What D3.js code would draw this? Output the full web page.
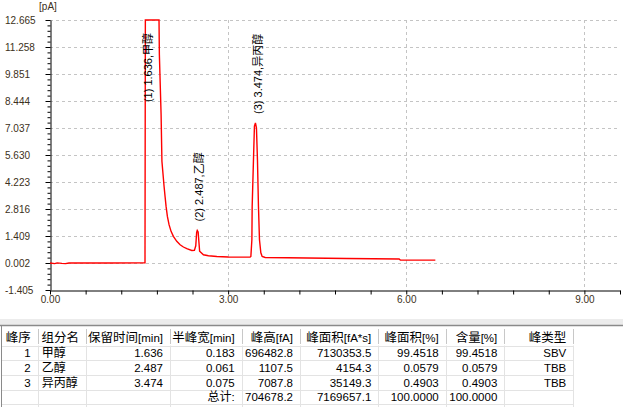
<!DOCTYPE html>
<html><head><meta charset="utf-8">
<script src="https://cdn.jsdelivr.net/npm/d3@7"></script>
<style>body{margin:0;background:#fff}svg{display:block}</style>
</head><body><svg id="c" width="623" height="407"></svg>
<script>
// ---- data ----
const yTickLabels = ["-1.405","0.002","1.409","2.816","4.223","5.630","7.037","8.444","9.851","11.258","12.665"];
const xTickLabels = ["0.00","3.00","6.00","9.00"];
const xTickValues = [0, 3, 6, 9];
const xMinorStep = 0.6;
const unitLabel = "[pA]";

const traceTime = [0,0.08,0.12,0.2,0.26,0.32,1.0,1.600,1.606,1.636,1.836,1.842,1.871,1.885,1.921,1.938,1.955,1.977,2.005,2.039,2.078,2.135,2.191,2.247,2.304,2.388,2.432,2.455,2.470,2.480,2.495,2.508,2.520,2.584,2.668,2.81,3.0,3.37,3.383,3.400,3.405,3.427,3.443,3.460,3.477,3.494,3.511,3.528,3.551,3.573,3.624,4.0,5.0,5.88,5.90,6.49];
const traceSignal = [0.002,-0.03,0.01,-0.02,-0.03,0.002,0.002,0.01,40,696.48,40,10.87,7.74,5.30,4.0,3.47,2.95,2.43,2.0,1.65,1.39,1.13,0.955,0.835,0.746,0.657,0.66,0.9,1.6,1.70,1.62,1.1,0.62,0.433,0.381,0.344,0.313,0.31,0.344,1.216,2.95,5.39,7.13,7.30,7.04,5.39,2.95,1.216,0.537,0.344,0.292,0.276,0.24,0.21,0.16,0.15];

const peakNo = ["1","2","3"];
const compName = ["甲醇","乙醇","异丙醇"];
const retTime = ["1.636","2.487","3.474"];
const halfWidth = ["0.183","0.061","0.075"];
const peakHeight = ["696482.8","1107.5","7087.8"];
const peakArea = ["7130353.5","4154.3","35149.3"];
const areaPct = ["99.4518","0.0579","0.4903"];
const content = ["99.4518","0.0579","0.4903"];
const peakType = ["SBV","TBB","TBB"];
const headers = ["峰序","组分名","保留时间[min]","半峰宽[min]","峰高[fA]","峰面积[fA*s]","峰面积[%]","含量[%]","峰类型"];
const totalRow = ["","","","总计:","704678.2","7169657.1","100.0000","100.0000",""];

// ---- chart ----
const svg = d3.select("#c");
const L = 50, R = 620, T = 20, B = 290;
const yVals = yTickLabels.map(Number);
const x = d3.scaleLinear([0, 9.6], [L, R]);
const y = d3.scaleLinear([yVals[0], yVals[yVals.length-1]], [B, T]).clamp(true);
const axisColor = "#000";
const labelColor = "#3c3020";

// grid
const grid = svg.append("g").attr("class", "grid");
yVals.slice(1).forEach(v => {
  const yy = Math.round(y(v)) + 0.5;
  grid.append("line").attr("x1", L).attr("x2", R).attr("y1", yy).attr("y2", yy);
});
xTickValues.slice(1).forEach(v => {
  const xx = Math.round(x(v)) + 0.5;
  grid.append("line").attr("x1", xx).attr("x2", xx).attr("y1", T).attr("y2", B);
});
grid.selectAll("line").attr("stroke", "#c4c4c4").attr("stroke-dasharray", "3,3").attr("stroke-width", 1);

// y axis
const minorY = [];
for (let i = 0; i < yVals.length - 1; i++) for (let k = 1; k < 5; k++) minorY.push(yVals[i] + (yVals[i+1]-yVals[i]) * k / 5);
const gy = svg.append("g").attr("transform", `translate(${L+0.5},0)`);
gy.call(d3.axisLeft(y).tickValues(minorY).tickSize(3).tickSizeOuter(0).tickFormat(""));
const gy2 = svg.append("g").attr("transform", `translate(${L+0.5},0)`);
gy2.call(d3.axisLeft(y).tickValues(yVals).tickSize(5).tickSizeOuter(0).tickFormat((d,i) => yTickLabels[i]));
gy2.select(".domain").remove();
gy2.selectAll("text").attr("x", 5 - L - 0.5).attr("text-anchor", "start").attr("dy", "0.35em")
  .attr("font-family", "Liberation Sans, Arial, sans-serif").attr("font-size", 10).attr("fill", labelColor);
[gy, gy2].forEach(g => g.selectAll("line, path.domain").attr("stroke", axisColor));

// x axis
const xAll = d3.range(0, 9.6 + 1e-6, xMinorStep);
const gx = svg.append("g").attr("transform", `translate(0,${B+0.5})`);
gx.call(d3.axisBottom(x).tickValues(xAll).tickSize(4).tickSizeOuter(0).tickFormat(d => {
  const i = xTickValues.findIndex(v => Math.abs(v - d) < 1e-6);
  return i >= 0 ? xTickLabels[i] : "";
}));
gx.selectAll("text").attr("font-family", "Liberation Sans, Arial, sans-serif").attr("font-size", 10).attr("fill", labelColor).attr("dy", "0.55em");
gx.selectAll("line, path").attr("stroke", axisColor);

svg.append("text").attr("x", 48).attr("y", 10).attr("text-anchor", "middle")
  .attr("font-family", "Liberation Sans, Arial, sans-serif").attr("font-size", 10).attr("fill", labelColor).text(unitLabel);

// trace
const idx = d3.range(traceTime.length);
svg.append("path").datum(idx)
  .attr("d", d3.line().x(i => x(traceTime[i])).y(i => y(traceSignal[i])))
  .attr("fill", "none").attr("stroke", "#ff0000").attr("stroke-width", 1.4).attr("stroke-linejoin", "miter");

// peak labels
retTime.forEach((rt, p) => {
  const t = +rt;
  let apex = -Infinity;
  idx.forEach(i => { if (Math.abs(traceTime[i] - t) < 0.05) apex = Math.max(apex, traceSignal[i]); });
  const ya = y(apex);
  const txt = svg.append("text").attr("transform", "rotate(-90)")
    .attr("font-family", "Liberation Sans, Arial, 'Noto Sans CJK SC', sans-serif").attr("font-size", 11).attr("fill", "#000")
    .attr("dy", "0.35em").text(`(${peakNo[p]}) ${rt},${compName[p]}`);
  const len = txt.node().getComputedTextLength();
  let bottom = ya - 9;
  if (bottom - len < 33) bottom = 33 + len;
  txt.attr("x", -bottom).attr("y", x(t) + 1.5);
});

// ---- table ----
const colEdges = [2, 37.7, 86, 170, 241.7, 300, 378.3, 445.7, 504.3, 573.3];
const tb = svg.append("g");
tb.append("rect").attr("x", 0).attr("y", 319).attr("width", 623).attr("height", 6).attr("fill", "#ececec");
tb.append("line").attr("x1", 0).attr("x2", 623).attr("y1", 325.5).attr("y2", 325.5).attr("stroke", "#8a8a8a").attr("stroke-width", 1.5);
tb.append("line").attr("x1", 1.5).attr("x2", 1.5).attr("y1", 325).attr("y2", 407).attr("stroke", "#8a8a8a");
const headTop = 326.5, headBot = 345.5, rowH = 14.7;
const rows = peakNo.map((n, i) => [n, compName[i], retTime[i], halfWidth[i], peakHeight[i], peakArea[i], areaPct[i], content[i], peakType[i]]);
rows.push(totalRow);
for (let r = 0; r <= rows.length; r++) {
  const yy = Math.round(headBot + r * rowH) + 0.5;
  tb.append("line").attr("x1", 2).attr("x2", colEdges[colEdges.length-1]).attr("y1", yy).attr("y2", yy).attr("stroke", "#e3e3e3");
}
colEdges.slice(1).forEach(cx => {
  const xx = Math.round(cx) + 0.5;
  tb.append("line").attr("x1", xx).attr("x2", xx).attr("y1", headBot).attr("y2", 407).attr("stroke", "#e3e3e3");
  tb.append("line").attr("x1", xx).attr("x2", xx).attr("y1", 329).attr("y2", 344).attr("stroke", "#c8c8c8");
});
const cjk = /[\u3000-\u9fff\uff00-\uffef]/;
function richText(g, str, xx, yy, anchor, big) {
  const t = g.append("text").attr("x", xx).attr("y", yy).attr("text-anchor", anchor).attr("fill", "#000");
  const runs = [];
  for (const ch of str) {
    const c = cjk.test(ch);
    if (runs.length && runs[runs.length-1].c === c) runs[runs.length-1].s += ch; else runs.push({c, s: ch});
  }
  runs.forEach(r => t.append("tspan").text(r.s)
    .attr("font-family", r.c ? "'Noto Sans CJK SC', sans-serif" : "Liberation Sans, Arial, sans-serif")
    .attr("font-size", r.c ? big : 11.5));
  return t;
}
headers.forEach((h, c) => richText(tb, h, colEdges[c+1] - 7, 341.5, "end", 12.5));
rows.forEach((row, r) => {
  const yy = headBot + r * rowH + rowH / 2 + 4.5;
  row.forEach((v, c) => {
    if (!v) return;
    if (c === 1) richText(tb, v, colEdges[1] + 4, yy, "start", 12);
    else richText(tb, v, colEdges[c+1] - 7, yy, "end", 12);
  });
});
</script></body></html>
